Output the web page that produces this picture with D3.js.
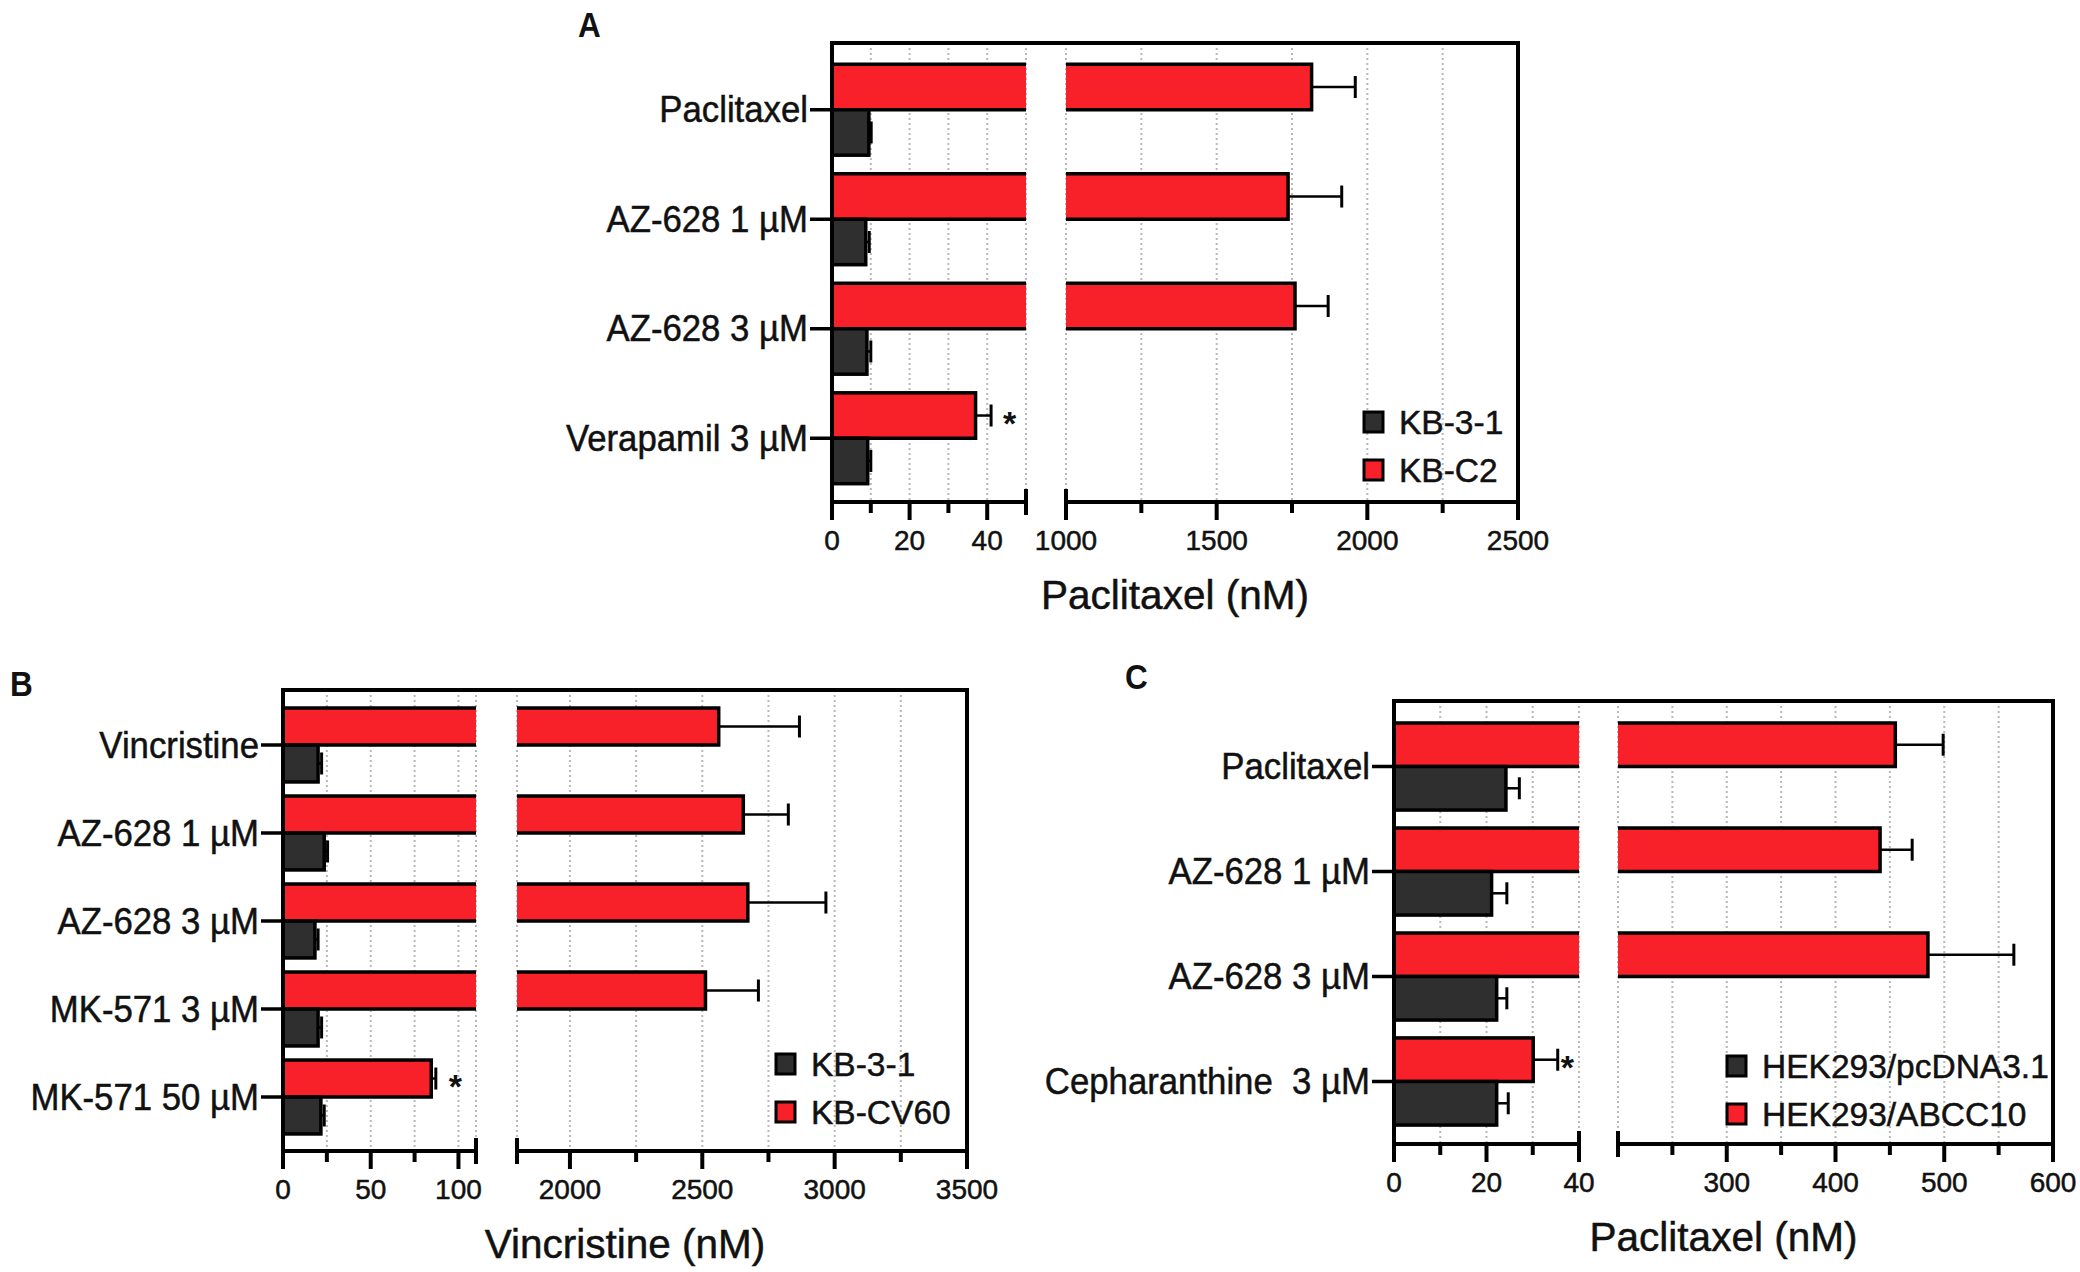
<!DOCTYPE html>
<html>
<head>
<meta charset="utf-8">
<script src="https://cdn.jsdelivr.net/npm/d3@7"></script>
<style>
  html, body { margin: 0; padding: 0; background: #fff; }
  svg text { font-family: "Liberation Sans", Arial, Helvetica, sans-serif; fill: #111; }
  svg text.thick { stroke: #111; stroke-width: 0.5px; }
</style>
</head>
<body>
<div id="chart"></div>
<script>
// ---- data ----

// panel A : paclitaxel in KB-3-1 / KB-C2
const catsA = ["Paclitaxel", "AZ-628 1 µM", "AZ-628 3 µM", "Verapamil 3 µM"];
const darkA = [9.5, 8.7, 9.0, 9.2];
const darkErrA = [0.6, 0.9, 1.0, 0.8];
const redA = [1815, 1737, 1760, 37];
const redErrA = [145, 178, 110, 4];
const sigA = ["", "", "", "*"];
const legendA = ["KB-3-1", "KB-C2"];
const leftMajorA = [0, 20, 40], leftMinorA = [10, 30];
const rightMajorA = [1000, 1500, 2000, 2500], rightMinorA = [1250, 1750, 2250];

// panel B : vincristine in KB-3-1 / KB-CV60
const catsB = ["Vincristine", "AZ-628 1 µM", "AZ-628 3 µM", "MK-571 3 µM", "MK-571 50 µM"];
const darkB = [20, 23.5, 18.2, 20, 21.6];
const darkErrB = [2, 1.9, 1.8, 2, 1.9];
const redB = [2562, 2655, 2672, 2512, 84.5];
const redErrB = [305, 170, 295, 200, 2.6];
const sigB = ["", "", "", "", "*"];
const legendB = ["KB-3-1", "KB-CV60"];
const leftMajorB = [0, 50, 100], leftMinorB = [25, 75];
const rightMajorB = [2000, 2500, 3000, 3500], rightMinorB = [2250, 2750, 3250];

// panel C : paclitaxel in HEK293 lines
const catsC = ["Paclitaxel", "AZ-628 1 µM", "AZ-628 3 µM", "Cepharanthine  3 µM"];
const darkC = [24.2, 21.1, 22.2, 22.2];
const darkErrC = [2.9, 3.3, 2.2, 2.5];
const redC = [455, 441, 485, 30.1];
const redErrC = [44, 29.5, 79, 5.3];
const sigC = ["", "", "", "*"];
const legendC = ["HEK293/pcDNA3.1", "HEK293/ABCC10"];
const leftMajorC = [0, 20, 40], leftMinorC = [10, 30];
const rightMajorC = [300, 400, 500, 600], rightMinorC = [250, 350, 450, 550];

const RED = "#f8212a", DARK = "#2f2f2f";

const svg = d3.select("#chart").append("svg")
    .attr("width", 2080)
    .attr("height", 1272);

// squeeze a text a little, the original lettering is slightly narrow
function narrow(sel, k) {
    sel.each(function () {
        const w = this.getComputedTextLength();
        d3.select(this).attr("textLength", w * k).attr("lengthAdjust", "spacingAndGlyphs");
    });
}

// draw one broken-axis horizontal bar panel
function drawPanel(p) {
    const g = svg.append("g");

    const xL = d3.scaleLinear().domain(p.leftDomain).range([p.left, p.break1]);
    const xR = d3.scaleLinear().domain(p.rightDomain).range([p.break2, p.right]);
    const y = d3.scaleBand().domain(p.cats).range([p.bandTop, p.bandBottom])
        .paddingInner(p.pad).paddingOuter(p.pad / 2);
    const bh = y.bandwidth() / 2;

    // dotted grid lines
    const gridL = p.leftMajor.concat(p.leftMinor, [p.leftDomain[1]]).filter(v => v > p.leftDomain[0]);
    const gridR = p.rightMajor.concat(p.rightMinor, [p.rightDomain[0]]).filter(v => v < p.rightDomain[1]);
    g.selectAll(".gl").data(gridL).join("line")
        .attr("x1", d => xL(d)).attr("x2", d => xL(d))
        .attr("y1", p.top).attr("y2", p.axisY)
        .attr("stroke", "#b8b8b8").attr("stroke-width", 2).attr("stroke-dasharray", "2,3");
    g.selectAll(".gr").data(gridR).join("line")
        .attr("x1", d => xR(d)).attr("x2", d => xR(d))
        .attr("y1", p.top).attr("y2", p.axisY)
        .attr("stroke", "#b8b8b8").attr("stroke-width", 2).attr("stroke-dasharray", "2,3");

    // bars (outline left open at the break)
    function bar(v, err, yTop, color, sig) {
        const y0 = yTop, y1 = yTop + bh;
        if (v <= p.leftDomain[1]) {
            const xe = xL(v);
            g.append("rect").attr("x", xL(0)).attr("y", y0).attr("width", xe - xL(0)).attr("height", bh)
                .attr("fill", color).attr("stroke", "#000").attr("stroke-width", 3.5);
            errBar(xe, xL(v + err), y0 + bh / 2);
            if (sig) {
                g.append("text").attr("x", xL(v + err) + p.sigGap).attr("y", y0 + bh / 2 + 19)
                    .attr("font-size", 34).attr("font-weight", "bold").text(sig);
            }
        } else {
            const xa = xL(0), xb = xL(p.leftDomain[1]);
            g.append("rect").attr("x", xa).attr("y", y0).attr("width", xb - xa).attr("height", bh).attr("fill", color);
            g.append("path").attr("d", `M${xb},${y0}H${xa}V${y1}H${xb}`)
                .attr("fill", "none").attr("stroke", "#000").attr("stroke-width", 3.5);
            const xc = xR(p.rightDomain[0]), xe = xR(v);
            g.append("rect").attr("x", xc).attr("y", y0).attr("width", xe - xc).attr("height", bh).attr("fill", color);
            g.append("path").attr("d", `M${xc},${y0}H${xe}V${y1}H${xc}`)
                .attr("fill", "none").attr("stroke", "#000").attr("stroke-width", 3.5);
            errBar(xe, xR(v + err), y0 + bh / 2);
        }
    }
    function errBar(xs, xe, yc) {
        g.append("line").attr("x1", xs).attr("x2", xe).attr("y1", yc).attr("y2", yc)
            .attr("stroke", "#000").attr("stroke-width", 2.5);
        g.append("line").attr("x1", xe).attr("x2", xe).attr("y1", yc - 11).attr("y2", yc + 11)
            .attr("stroke", "#000").attr("stroke-width", 3);
    }
    p.cats.forEach((c, i) => {
        bar(p.red[i], p.redErr[i], y(c), RED, p.sig[i]);
        bar(p.dark[i], p.darkErr[i], y(c) + bh, DARK, "");
    });

    // frame: left axis, top, right
    g.append("path")
        .attr("d", `M${p.left},${p.axisY}V${p.top}H${p.right}V${p.axisY}`)
        .attr("fill", "none").attr("stroke", "#000").attr("stroke-width", 4);

    // broken x axis
    g.append("line").attr("x1", p.left - 2).attr("x2", p.break1).attr("y1", p.axisY).attr("y2", p.axisY)
        .attr("stroke", "#000").attr("stroke-width", 4);
    g.append("line").attr("x1", p.break2).attr("x2", p.right + 2).attr("y1", p.axisY).attr("y2", p.axisY)
        .attr("stroke", "#000").attr("stroke-width", 4);
    [p.break1, p.break2].forEach(x => {
        g.append("line").attr("x1", x).attr("x2", x).attr("y1", p.axisY - 13).attr("y2", p.axisY + 13)
            .attr("stroke", "#000").attr("stroke-width", 4);
    });

    // ticks
    const majors = p.leftMajor.map(v => xL(v)).concat(p.rightMajor.map(v => xR(v)));
    const minors = p.leftMinor.map(v => xL(v)).concat(p.rightMinor.map(v => xR(v)));
    g.selectAll(".tmaj").data(majors).join("line")
        .attr("x1", d => d).attr("x2", d => d).attr("y1", p.axisY).attr("y2", p.axisY + 18)
        .attr("stroke", "#000").attr("stroke-width", 4);
    g.selectAll(".tmin").data(minors).join("line")
        .attr("x1", d => d).attr("x2", d => d).attr("y1", p.axisY).attr("y2", p.axisY + 11)
        .attr("stroke", "#000").attr("stroke-width", 4);

    // tick labels
    const labs = p.leftMajor.map(v => [xL(v), v]).concat(p.rightMajor.map(v => [xR(v), v]));
    g.selectAll(".tl").data(labs).join("text")
        .attr("class", "thick")
        .attr("x", d => d[0]).attr("y", p.axisY + 48)
        .attr("text-anchor", "middle").attr("font-size", 28)
        .text(d => d[1]);

    // category ticks and labels
    p.cats.forEach(c => {
        const yc = y(c) + bh;
        g.append("line").attr("x1", p.left - 22).attr("x2", p.left).attr("y1", yc).attr("y2", yc)
            .attr("stroke", "#000").attr("stroke-width", 3.5);
        g.append("text").attr("class", "thick").attr("x", p.left - 24).attr("y", yc + 12.5)
            .attr("text-anchor", "end").attr("font-size", 36)
            .style("white-space", "pre").text(c)
            .call(narrow, 0.965);
    });

    // axis title
    g.append("text").attr("class", "thick").attr("x", (p.left + p.right) / 2).attr("y", p.axisY + 107)
        .attr("text-anchor", "middle").attr("font-size", 40.5).text(p.title);

    // legend
    p.legend.forEach((name, i) => {
        const ly = p.legendY + i * 48;
        g.append("rect").attr("x", p.legendX).attr("y", ly - 10).attr("width", 19).attr("height", 20)
            .attr("fill", i === 0 ? DARK : RED).attr("stroke", "#000").attr("stroke-width", 3);
        g.append("text").attr("class", "thick").attr("x", p.legendX + 35).attr("y", ly).attr("dy", "0.36em")
            .attr("font-size", 33.5).text(name);
    });

    // panel letter
    g.append("text").attr("x", p.letterX).attr("y", p.letterY)
        .attr("font-size", 35).attr("font-weight", "bold").text(p.letter)
        .call(narrow, 0.9);
}

drawPanel({
    letter: "A", letterX: 578, letterY: 37,
    cats: catsA, dark: darkA, darkErr: darkErrA, red: redA, redErr: redErrA, sig: sigA, sigGap: 12,
    legend: legendA, legendX: 1364, legendY: 422,
    leftDomain: [0, 50], rightDomain: [1000, 2500],
    leftMajor: leftMajorA, leftMinor: leftMinorA, rightMajor: rightMajorA, rightMinor: rightMinorA,
    left: 832, break1: 1026, break2: 1066, right: 1518, top: 43, axisY: 502,
    bandTop: 55, bandBottom: 493, pad: 0.17,
    title: "Paclitaxel (nM)"
});

drawPanel({
    letter: "B", letterX: 10, letterY: 696,
    cats: catsB, dark: darkB, darkErr: darkErrB, red: redB, redErr: redErrB, sig: sigB, sigGap: 13,
    legend: legendB, legendX: 776, legendY: 1064,
    leftDomain: [0, 110], rightDomain: [1800, 3500],
    leftMajor: leftMajorB, leftMinor: leftMinorB, rightMajor: rightMajorB, rightMinor: rightMinorB,
    left: 283, break1: 476, break2: 517, right: 967, top: 690, axisY: 1151,
    bandTop: 701, bandBottom: 1141, pad: 0.16,
    title: "Vincristine (nM)"
});

drawPanel({
    letter: "C", letterX: 1125, letterY: 689,
    cats: catsC, dark: darkC, darkErr: darkErrC, red: redC, redErr: redErrC, sig: sigC, sigGap: 3,
    legend: legendC, legendX: 1727, legendY: 1066,
    leftDomain: [0, 40], rightDomain: [200, 600],
    leftMajor: leftMajorC, leftMinor: leftMinorC, rightMajor: rightMajorC, rightMinor: rightMinorC,
    left: 1394, break1: 1579, break2: 1618, right: 2053, top: 701, axisY: 1144,
    bandTop: 714, bandBottom: 1134, pad: 0.17,
    title: "Paclitaxel (nM)"
});
</script>
</body>
</html>
